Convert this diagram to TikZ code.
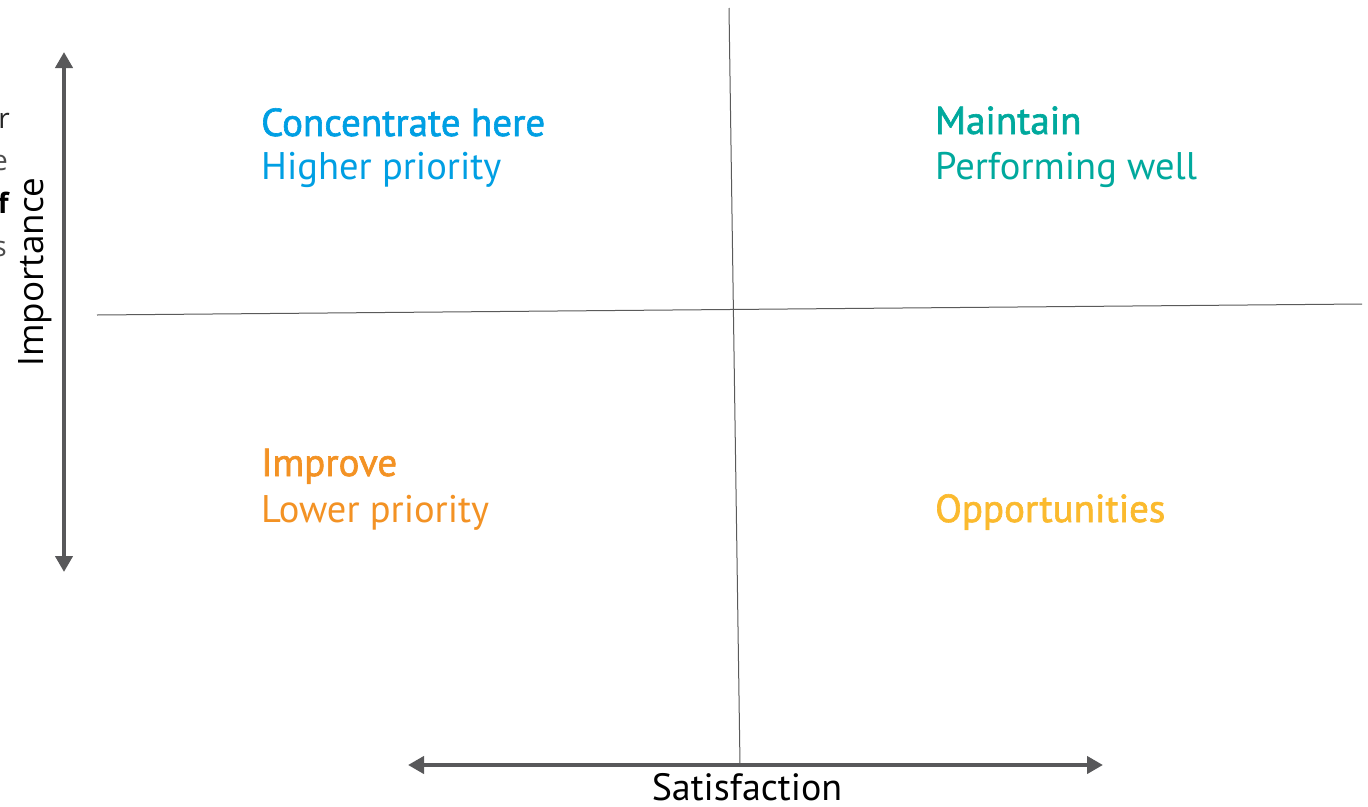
\documentclass[tikz,border=0pt]{standalone}
\usepackage{fontspec}
\setmainfont{PT Sans}
\newfontfamily\titlefont[FakeBold=1.6]{PT Sans}
\newfontfamily\axisfont{Open Sans}
\usetikzlibrary{arrows.meta}
\definecolor{axisgrey}{HTML}{58585A}
\definecolor{lineg}{HTML}{5A5A5A}
\definecolor{qblue}{HTML}{009FE3}
\definecolor{qteal}{HTML}{00A99D}
\definecolor{qorange}{HTML}{F39224}
\definecolor{qyellow}{HTML}{FBBA2E}
\tikzset{
  axisarrow/.style={line width=4pt, draw=axisgrey,
    {Triangle[length=16pt,width=17pt]}-{Triangle[length=16pt,width=17pt]}},
  divider/.style={line width=1pt, draw=lineg},
  qtitle/.style={anchor=base west, inner sep=0pt, font=\titlefont\fontsize{39}{42}\selectfont},
  qsub/.style={anchor=base west, inner sep=0pt, font=\fontsize{38.5}{42}\selectfont},
  axislabel/.style={inner sep=0pt, font=\axisfont\fontsize{35}{40}\selectfont},
  edgefrag/.style={anchor=base east, inner sep=0pt, font=\axisfont\fontsize{28}{30}\selectfont}
}
\begin{document}
\begin{tikzpicture}[x=1pt,y=-1pt]
\useasboundingbox (0,0) rectangle (1368,806);
\fill[white] (0,0) rectangle (1368,806);

% quadrant dividers
\coordinate (vtop) at (729,8);
\coordinate (vbot) at (740,765);
\coordinate (hleft) at (97,315);
\coordinate (hright) at (1362,304);
\draw[divider] (vtop) -- (vbot);
\draw[divider] (hleft) -- (hright);

% axes
\coordinate (ytop) at (64,52);
\coordinate (ybot) at (64,572);
\coordinate (xleft) at (408,765);
\coordinate (xright) at (1103,765);
\draw[axisarrow] (ybot) -- (ytop);
\draw[axisarrow] (xleft) -- (xright);

\node[axislabel, anchor=base, rotate=90] (imp) at (43,272) {Importance};
\node[inner sep=0pt, anchor=base, font=\fontsize{38}{40}\selectfont] (sat) at (747,800) {Satisfaction};

% quadrant labels
\node[qtitle, qblue] (conc) at (261,136) {Concentrate here};
\node[qsub, qblue] (high) at (261,179) {Higher priority};
\node[qtitle, qteal] (main) at (935,134) {Maintain};
\node[qsub, qteal] (perf) at (935,179) {Performing well};
\node[qtitle, qorange] (impr) at (261,476) {Improve};
\node[qsub, qorange] (low) at (261,522) {Lower priority};
\node[qtitle, qyellow] (opp) at (935,522) {Opportunities};

% text running in from the left edge
\node[edgefrag, text=black!85] (f1) at (10,128) {r};
\node[edgefrag, text=black!70] (f2) at (8,170) {e};
\node[edgefrag, text=black, font=\axisfont\bfseries\fontsize{28}{30}\selectfont] (f3) at (9,213) {f};
\node[edgefrag, text=black!70] (f4) at (7,256) {s};
\end{tikzpicture}
\end{document}
